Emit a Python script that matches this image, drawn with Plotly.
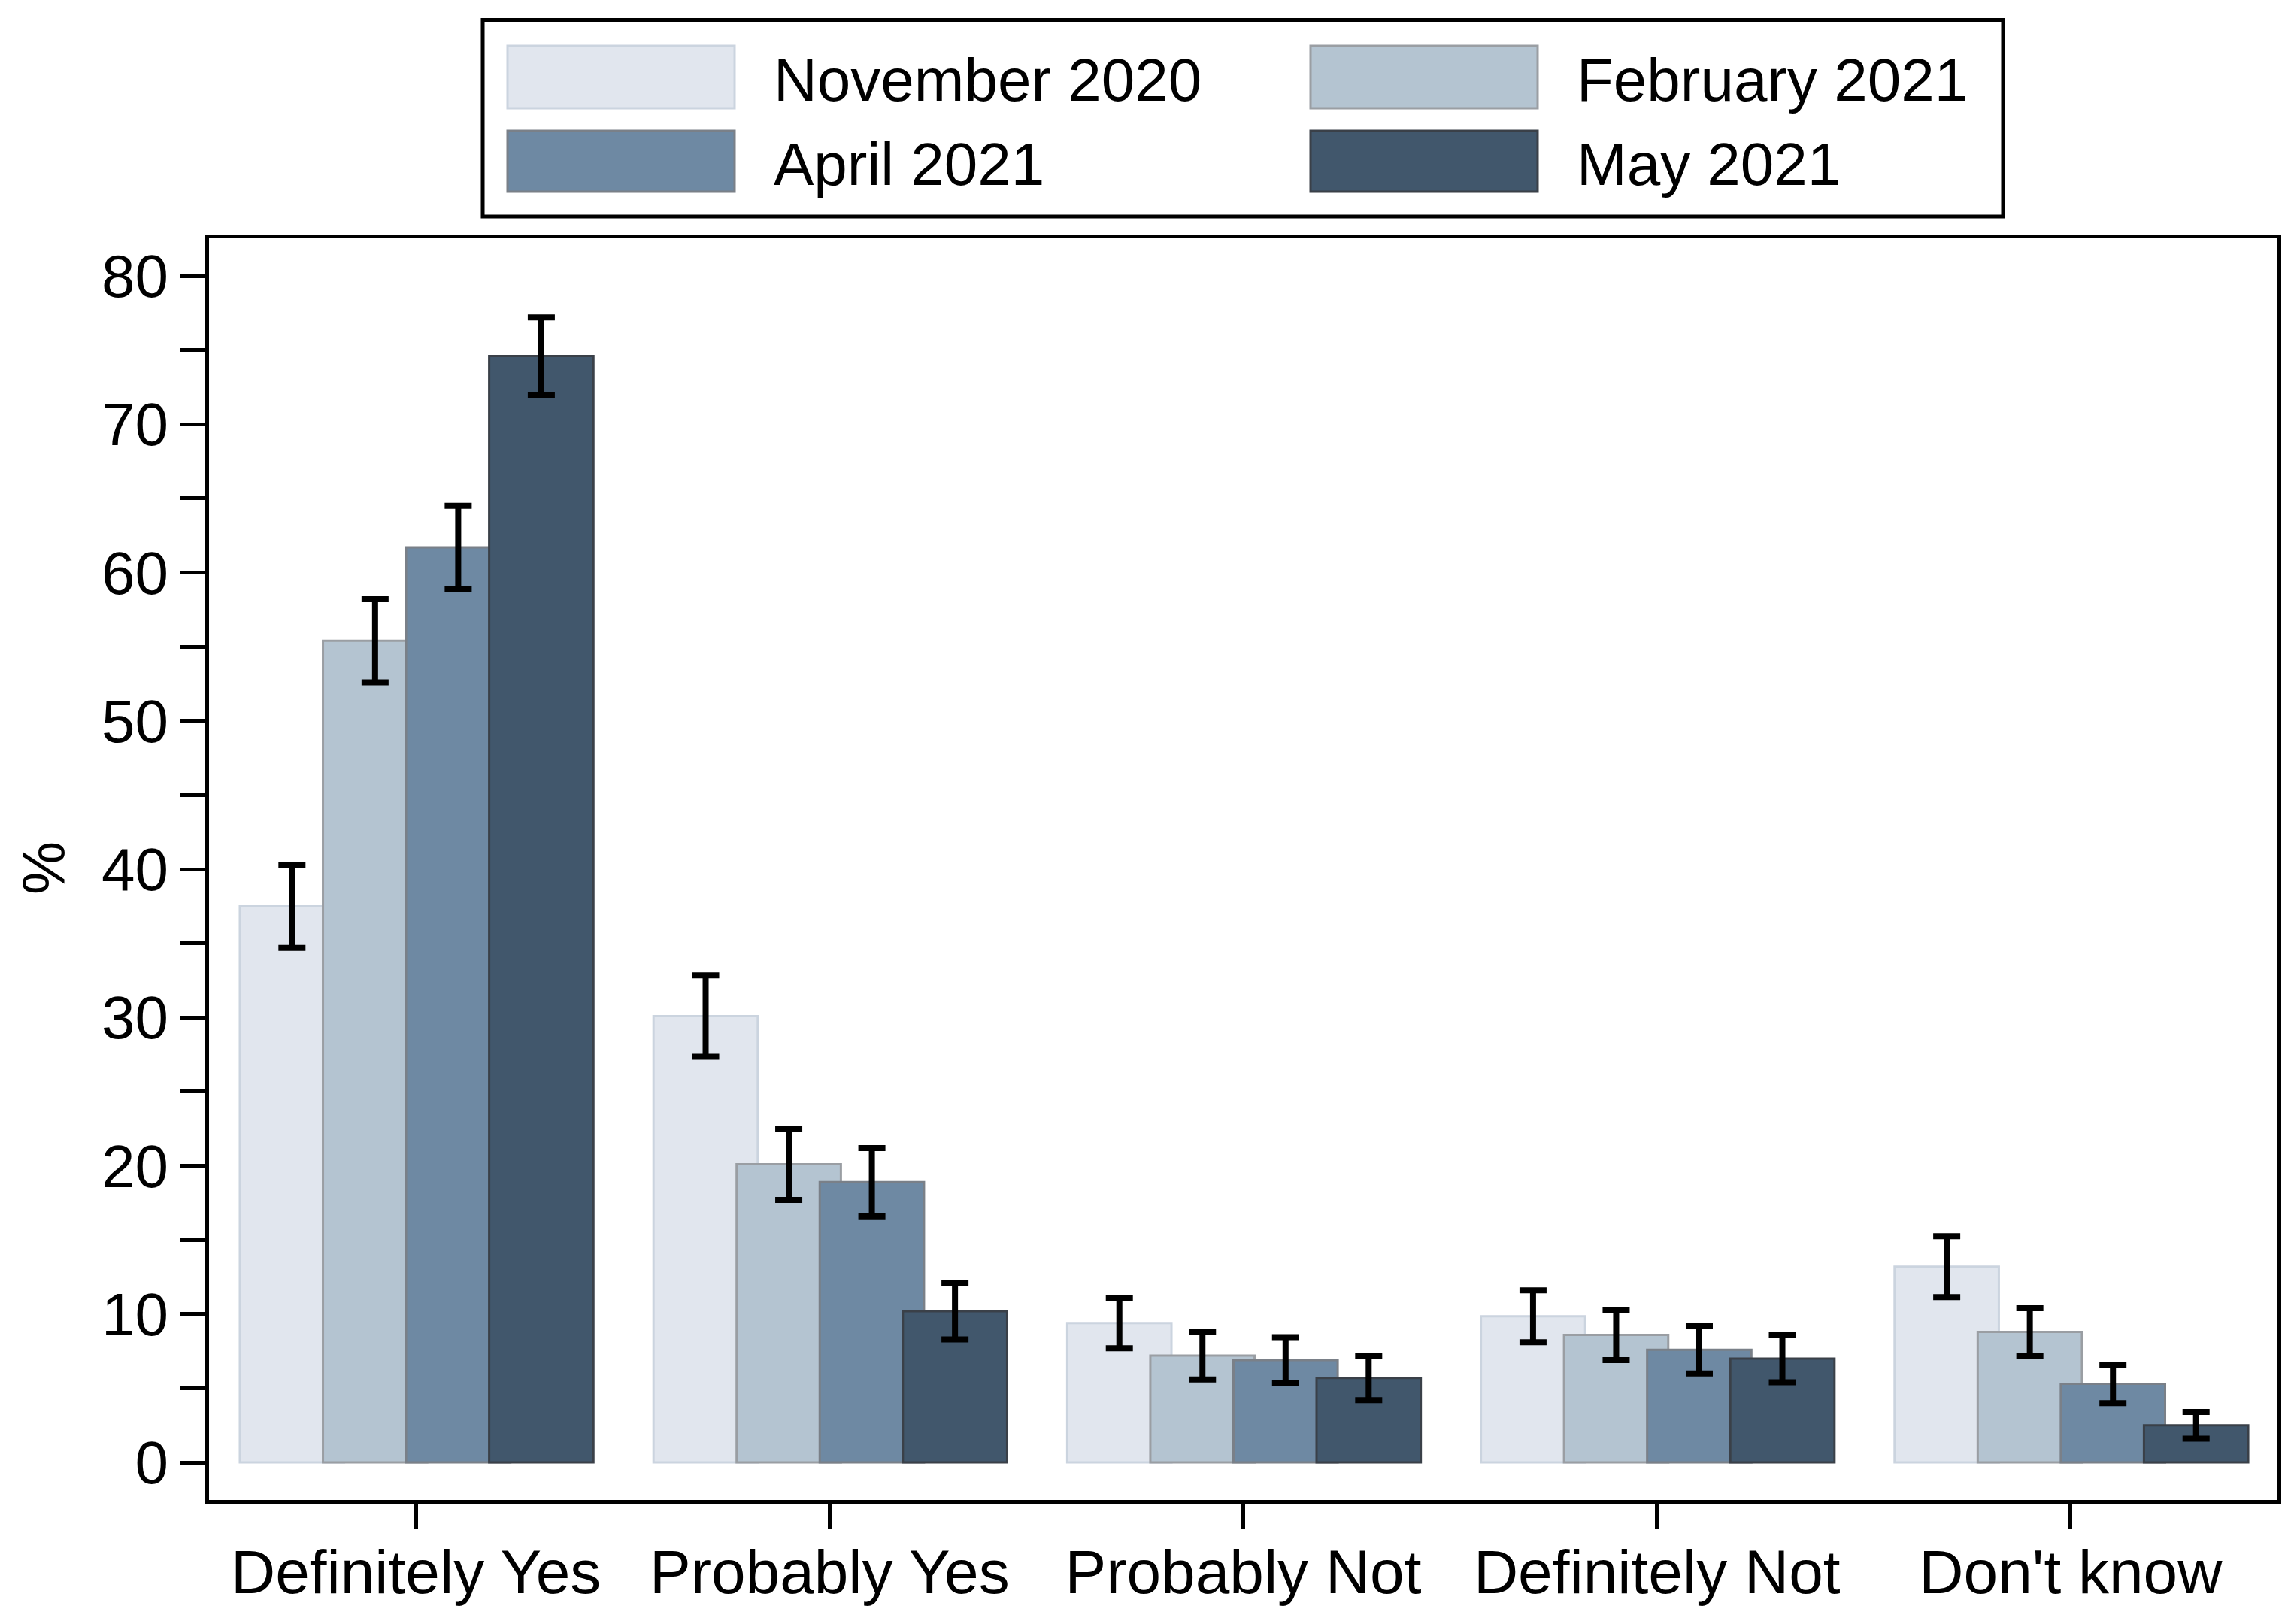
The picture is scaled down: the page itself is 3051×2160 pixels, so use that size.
import plotly.graph_objects as go

categories = ["Definitely Yes", "Probably Yes", "Probably Not", "Definitely Not", "Don't know"]
series_names = ["November 2020", "February 2021", "April 2021", "May 2021"]
nov_2020 = [37.5, 30.1, 9.4, 9.85, 13.2]
feb_2021 = [55.4, 20.1, 7.2, 8.6, 8.8]
apr_2021 = [61.7, 18.9, 6.9, 7.6, 5.3]
may_2021 = [74.6, 10.2, 5.7, 7.0, 2.5]
nov_err = [2.8, 2.75, 1.7, 1.75, 2.05]
feb_err = [2.8, 2.4, 1.6, 1.7, 1.6]
apr_err = [2.8, 2.3, 1.55, 1.6, 1.3]
may_err = [2.6, 1.9, 1.5, 1.6, 0.9]
y_tick_values = [0, 5, 10, 15, 20, 25, 30, 35, 40, 45, 50, 55, 60, 65, 70, 75, 80]
y_tick_labels = ["0", "", "10", "", "20", "", "30", "", "40", "", "50", "", "60", "", "70", "", "80"]

fills = ["#E1E6EE", "#B4C4D1", "#6E89A3", "#41576C"]
outlines = ["#CBD4DF", "#9A9EA3", "#7A8088", "#3A4048"]
values = [nov_2020, feb_2021, apr_2021, may_2021]
errors = [nov_err, feb_err, apr_err, may_err]
offsets = [-0.4255, -0.2246, -0.0237, 0.1772]
bar_w = 0.252

W, H = 3051, 2160
L, R, T, B = 270, 30, 309, 173
PW, PH = W - L - R, H - T - B
FONT = "Liberation Sans"
FS = 80

fig = go.Figure()
for name, vals, errs, fc, oc, off in zip(series_names, values, errors, fills, outlines, offsets):
    fig.add_trace(go.Bar(
        x=categories, y=vals, name=name,
        offset=off, width=bar_w,
        marker=dict(color=fc, line=dict(color=oc, width=3)),
        error_y=dict(type="data", array=errs, visible=True, color="black",
                     thickness=8, width=18),
        showlegend=False,
    ))

def px_x(p):
    return (p - L) / PW

def px_y(p):
    return (H - B - p) / PH

shapes = []
annotations = []
# legend frame
shapes.append(dict(type="rect", xref="paper", yref="paper",
                   x0=px_x(634), x1=px_x(2656), y0=px_y(280), y1=px_y(18.5),
                   line=dict(color="black", width=5), fillcolor="white", layer="above"))
legend_pos = [(667, 53, 136), (1735, 53, 136), (667, 166, 247), (1735, 166, 247)]
for (lx, y0, y1), name, fc, oc in zip(legend_pos, series_names, fills, outlines):
    shapes.append(dict(type="rect", xref="paper", yref="paper",
                       x0=px_x(lx), x1=px_x(lx + 302), y0=px_y(y1), y1=px_y(y0),
                       line=dict(color=oc, width=3), fillcolor=fc, layer="above"))
    annotations.append(dict(xref="paper", yref="paper", x=px_x(lx + 352), y=px_y((y0 + y1) / 2 + 4),
                            text=name, showarrow=False, xanchor="left", yanchor="middle",
                            font=dict(family=FONT, size=FS, color="black")))
annotations.append(dict(xref="paper", yref="paper", x=px_x(50), y=px_y(1147), text="%",
                        textangle=-90, showarrow=False, xanchor="center", yanchor="middle",
                        font=dict(family=FONT, size=FS, color="black")))

fig.update_layout(
    width=W, height=H,
    margin=dict(l=L, r=R, t=T, b=B),
    barmode="overlay",
    plot_bgcolor="white", paper_bgcolor="white",
    font=dict(family=FONT, size=FS, color="black"),
    shapes=shapes, annotations=annotations,
    showlegend=False,
)
fig.update_xaxes(
    type="category", range=[-0.5, 4.5],
    showline=True, mirror=True, linecolor="black", linewidth=5,
    ticks="outside", ticklen=33, tickwidth=4.5, tickcolor="black",
    ticklabelstandoff=-12,
    showgrid=False, zeroline=False,
    tickfont=dict(family=FONT, size=82, color="black"),
)
fig.update_yaxes(
    range=[-2.53, 82.54],
    tickvals=y_tick_values, ticktext=y_tick_labels,
    showline=True, mirror=True, linecolor="black", linewidth=5,
    ticks="outside", ticklen=33, tickwidth=4.5, tickcolor="black",
    showgrid=False, zeroline=False,
    tickfont=dict(family=FONT, size=FS, color="black"),
)

fig.write_html("out.html")
